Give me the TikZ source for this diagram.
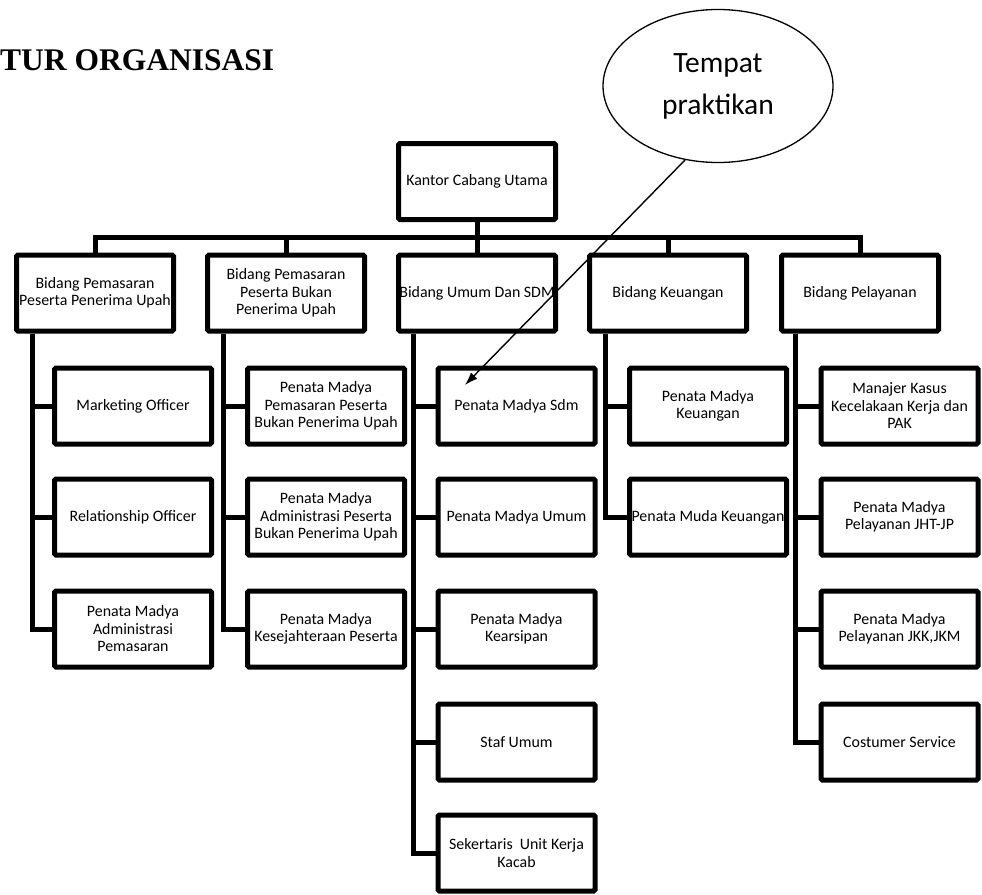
\documentclass[tikz,border=0pt]{standalone}
\usepackage{fontspec}
\setmainfont{Carlito}
\newfontfamily\titlefont{Liberation Serif}
\usetikzlibrary{shapes.geometric,arrows.meta,calc}
\begin{document}
\begin{tikzpicture}[x=1pt,y=-1pt,
  box/.style={draw,line width=5pt,rounded corners=1.5pt,minimum width=157pt,minimum height=76pt,
    align=center,inner sep=0pt,font=\fontsize{15.9}{17.5}\selectfont},
  link/.style={line width=5pt},
  callout/.style={draw,ellipse,line width=1.3pt,minimum width=230pt,minimum height=153pt,
    align=center,inner sep=0pt,font=\fontsize{29.5}{42}\selectfont},
  pointer/.style={line width=1.4pt,-{Latex[length=13pt,width=9pt]}}
]
\useasboundingbox (0,0) rectangle (982,894);

\node[anchor=base west,inner sep=0pt,font=\titlefont\bfseries\fontsize{31.5}{36}\selectfont] (title) at (0,70) {TUR ORGANISASI};

\node[callout] (ell) at (718,86) {Tempat\\praktikan};

\node[box] (top) at (477,181.5) {Kantor Cabang Utama};

\node[box] (l1a) at (95,293) {Bidang Pemasaran\\Peserta Penerima Upah};
\node[box] (l1b) at (286,293) {Bidang Pemasaran\\Peserta Bukan\\Penerima Upah};
\node[box] (l1c) at (477,293) {Bidang Umum Dan SDM};
\node[box] (l1d) at (668,293) {Bidang Keuangan};
\node[box] (l1e) at (860,293) {Bidang Pelayanan};

% column 1
\node[box] (c11) at (133,406) {Marketing Officer};
\node[box] (c12) at (133,517) {Relationship Officer};
\node[box] (c13) at (133,629) {Penata Madya\\Administrasi\\Pemasaran};
% column 2
\node[box] (c21) at (326,406) {Penata Madya\\Pemasaran Peserta\\Bukan Penerima Upah};
\node[box] (c22) at (326,517) {Penata Madya\\Administrasi Peserta\\Bukan Penerima Upah};
\node[box] (c23) at (326,629) {Penata Madya\\Kesejahteraan Peserta};
% column 3
\node[box] (c31) at (516.5,406) {Penata Madya Sdm};
\node[box] (c32) at (516.5,517) {Penata Madya Umum};
\node[box] (c33) at (516.5,629) {Penata Madya\\Kearsipan};
\node[box] (c34) at (516.5,742) {Staf Umum};
\node[box] (c35) at (516.5,853) {Sekertaris\ \ Unit Kerja\\Kacab};
% column 4
\node[box] (c41) at (708,406) {Penata Madya\\Keuangan};
\node[box] (c42) at (708,517) {Penata Muda Keuangan};
% column 5
\node[box] (c51) at (899.5,406) {Manajer Kasus\\Kecelakaan Kerja dan\\PAK};
\node[box] (c52) at (899.5,517) {Penata Madya\\Pelayanan JHT-JP};
\node[box] (c53) at (899.5,629) {Penata Madya\\Pelayanan JKK,JKM};
\node[box] (c54) at (899.5,742) {Costumer Service};

% bus
\coordinate (bus) at (0,237);
\draw[link] (top.south) -- (top.south |- bus);
\draw[link] (l1a.north) |- (l1e.north |- bus) -- (l1e.north);
\draw[link] (l1b.north |- bus) -- (l1b.north);
\draw[link] (l1c.north |- bus) -- (l1c.north);
\draw[link] (l1d.north |- bus) -- (l1d.north);

% spines
\coordinate (s1) at ($(l1a.south west)+(18,0)$);
\coordinate (s2) at ($(l1b.south west)+(18,0)$);
\coordinate (s3) at ($(l1c.south west)+(17,0)$);
\coordinate (s4) at ($(l1d.south west)+(18,0)$);
\coordinate (s5) at ($(l1e.south west)+(16,0)$);

\draw[link] (s1) |- (c13.west);
\draw[link] (c11.west) -- (c11.west -| s1);
\draw[link] (c12.west) -- (c12.west -| s1);

\draw[link] (s2) |- (c23.west);
\draw[link] (c21.west) -- (c21.west -| s2);
\draw[link] (c22.west) -- (c22.west -| s2);

\draw[link] (s3) |- (c35.west);
\draw[link] (c31.west) -- (c31.west -| s3);
\draw[link] (c32.west) -- (c32.west -| s3);
\draw[link] (c33.west) -- (c33.west -| s3);
\draw[link] (c34.west) -- (c34.west -| s3);

\draw[link] (s4) |- (c42.west);
\draw[link] (c41.west) -- (c41.west -| s4);

\draw[link] (s5) |- (c54.west);
\draw[link] (c51.west) -- (c51.west -| s5);
\draw[link] (c52.west) -- (c52.west -| s5);
\draw[link] (c53.west) -- (c53.west -| s5);

% pointer
\coordinate (tip) at (465,385);
\draw[pointer] (ell.246) -- (tip);
\end{tikzpicture}
\end{document}
